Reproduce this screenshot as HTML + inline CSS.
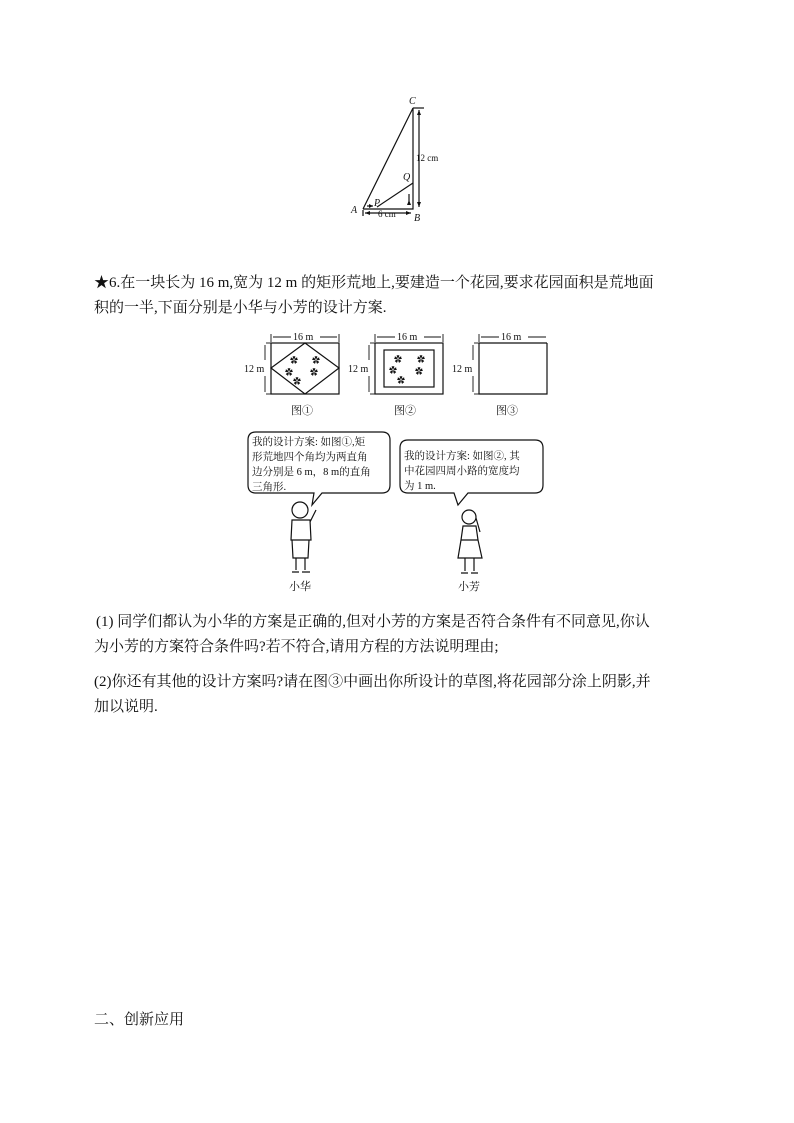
<!DOCTYPE html>
<html><head><meta charset="utf-8"><style>
body{margin:0;background:#fff;}
.p{position:absolute;left:0;top:0;width:794px;height:1123px;overflow:hidden;font-family:"Liberation Serif","Noto Serif CJK SC","Noto Sans CJK SC",serif;color:#111;}
.t{position:absolute;font-size:15px;white-space:nowrap;}
</style></head><body><div class="p">
<svg width="794" height="1123" style="position:absolute;left:0;top:0" font-family="Liberation Serif,Noto Serif CJK SC,serif">
<g stroke="#111" fill="none" stroke-width="1.2">
<polyline points="363,209 413,108 413,209 363,209"/>
<line x1="377" y1="207" x2="413" y2="183"/>
<line x1="413" y1="108" x2="424" y2="108"/>
<line x1="419" y1="110" x2="419" y2="207"/>
<line x1="363" y1="210" x2="363" y2="216"/>
<line x1="365" y1="213" x2="411" y2="213"/>
<line x1="409" y1="205" x2="409" y2="194"/>
<line x1="367" y1="206" x2="373" y2="206"/>
<rect x="271" y="343" width="68" height="51"/>
<polygon points="305,343 339,368 305,394 271,368"/>
<rect x="375" y="343" width="68" height="51"/>
<rect x="384" y="350" width="50" height="37"/>
<line x1="479" y1="343" x2="547" y2="343"/>
<polyline points="547,343 547,394 479,394 479,343"/>
<g stroke-width="0.9">
<line x1="271" y1="334" x2="271" y2="342"/><line x1="339" y1="334" x2="339" y2="342"/>
<line x1="273" y1="337" x2="291" y2="337"/><line x1="320" y1="337" x2="337" y2="337"/>
<line x1="375" y1="334" x2="375" y2="342"/><line x1="443" y1="334" x2="443" y2="342"/>
<line x1="377" y1="337" x2="395" y2="337"/><line x1="424" y1="337" x2="441" y2="337"/>
<line x1="479" y1="334" x2="479" y2="342"/>
<line x1="481" y1="337" x2="499" y2="337"/><line x1="528" y1="337" x2="546" y2="337"/>
<line x1="266" y1="343" x2="271" y2="343"/><line x1="266" y1="394" x2="271" y2="394"/>
<line x1="265" y1="345" x2="265" y2="360"/><line x1="265" y1="376" x2="265" y2="392"/>
<line x1="370" y1="343" x2="375" y2="343"/><line x1="370" y1="394" x2="375" y2="394"/>
<line x1="369" y1="345" x2="369" y2="360"/><line x1="369" y1="376" x2="369" y2="392"/>
<line x1="474" y1="343" x2="479" y2="343"/><line x1="474" y1="394" x2="479" y2="394"/>
<line x1="473" y1="345" x2="473" y2="360"/><line x1="473" y1="376" x2="473" y2="392"/>
</g>
<path d="M256,432 H382 Q390,432 390,440 V485 Q390,493 382,493 H322 L312,505 L314,493 H256 Q248,493 248,485 V440 Q248,432 256,432 Z"/>
<path d="M408,440 H535 Q543,440 543,448 V485 Q543,493 535,493 H468 L458,505 L454,493 H408 Q400,493 400,485 V448 Q400,440 408,440 Z"/>
<circle cx="300" cy="510" r="8"/><path d="M292,520 L310,520 L311,540 L291,540 Z M292,540 L293,558 L308,558 L309,540 M296,558 V570 M305,558 V570 M292,572 H299 M302,572 H310 M310,522 L316,510"/>
<circle cx="469" cy="517" r="7"/><path d="M463,526 L476,526 L478,540 L461,540 Z M461,540 L458,558 L482,558 L478,540 M465,558 V571 M474,558 V571 M461,573 H468 M471,573 H478 M476,518 L480,532"/>
</g>
<g fill="#111" font-size="9">
<polygon points="411,205 409,200 407,205"/>
<polygon points="419,110 417,115 421,115"/><polygon points="419,207 417,202 421,202"/>
<polygon points="365,213 370,211 370,215"/><polygon points="411,213 406,211 406,215"/>
<polygon points="373,206 369,204 369,208"/>
<text x="409" y="104" font-style="italic" font-size="10">C</text>
<text x="351" y="213" font-style="italic" font-size="10">A</text>
<text x="414" y="221" font-style="italic" font-size="10">B</text>
<text x="403" y="180" font-style="italic" font-size="10">Q</text>
<text x="374" y="206" font-style="italic" font-size="10">P</text>
<text x="416" y="161">12 cm</text>
<text x="378" y="217">6 cm</text>
<text x="293" y="340" font-size="10">16 m</text><text x="397" y="340" font-size="10">16 m</text><text x="501" y="340" font-size="10">16 m</text>
<text x="244" y="372" font-size="10">12 m</text><text x="348" y="372" font-size="10">12 m</text><text x="452" y="372" font-size="10">12 m</text>
<text x="291" y="414" font-size="11">图①</text><text x="394" y="414" font-size="11">图②</text><text x="496" y="414" font-size="11">图③</text>
<text x="252" y="445" font-size="10.5">我的设计方案: 如图①,矩</text>
<text x="252" y="460" font-size="10.5">形荒地四个角均为两直角</text>
<text x="252" y="475" font-size="10.5">边分别是 6 m，8 m的直角</text>
<text x="252" y="490" font-size="10.5">三角形.</text>
<text x="404" y="459" font-size="10.5">我的设计方案: 如图②, 其</text>
<text x="404" y="474" font-size="10.5">中花园四周小路的宽度均</text>
<text x="404" y="489" font-size="10.5">为 1 m.</text>
<text x="289" y="590" font-size="11">小华</text><text x="458" y="590" font-size="11">小芳</text>
</g>
<g font-size="8" fill="#111">
<text x="290" y="363">✿</text><text x="312" y="363">✿</text><text x="285" y="375">✿</text><text x="310" y="375">✿</text><text x="293" y="384">✿</text>
<text x="394" y="362">✿</text><text x="417" y="362">✿</text><text x="389" y="373">✿</text><text x="415" y="374">✿</text><text x="397" y="383">✿</text>
</g>
</svg>
<div class="t" style="left:94px;top:271px">★6.在一块长为 16 m,宽为 12 m 的矩形荒地上,要建造一个花园,要求花园面积是荒地面</div>
<div class="t" style="left:94px;top:296px">积的一半,下面分别是小华与小芳的设计方案.</div>
<div class="t" style="left:96px;top:610px">(1) 同学们都认为小华的方案是正确的,但对小芳的方案是否符合条件有不同意见,你认</div>
<div class="t" style="left:94px;top:635px">为小芳的方案符合条件吗?若不符合,请用方程的方法说明理由;</div>
<div class="t" style="left:94px;top:670px">(2)你还有其他的设计方案吗?请在图③中画出你所设计的草图,将花园部分涂上阴影,并</div>
<div class="t" style="left:94px;top:695px">加以说明.</div>
<div class="t" style="left:94px;top:1008px">二、创新应用</div>
</div></body></html>
